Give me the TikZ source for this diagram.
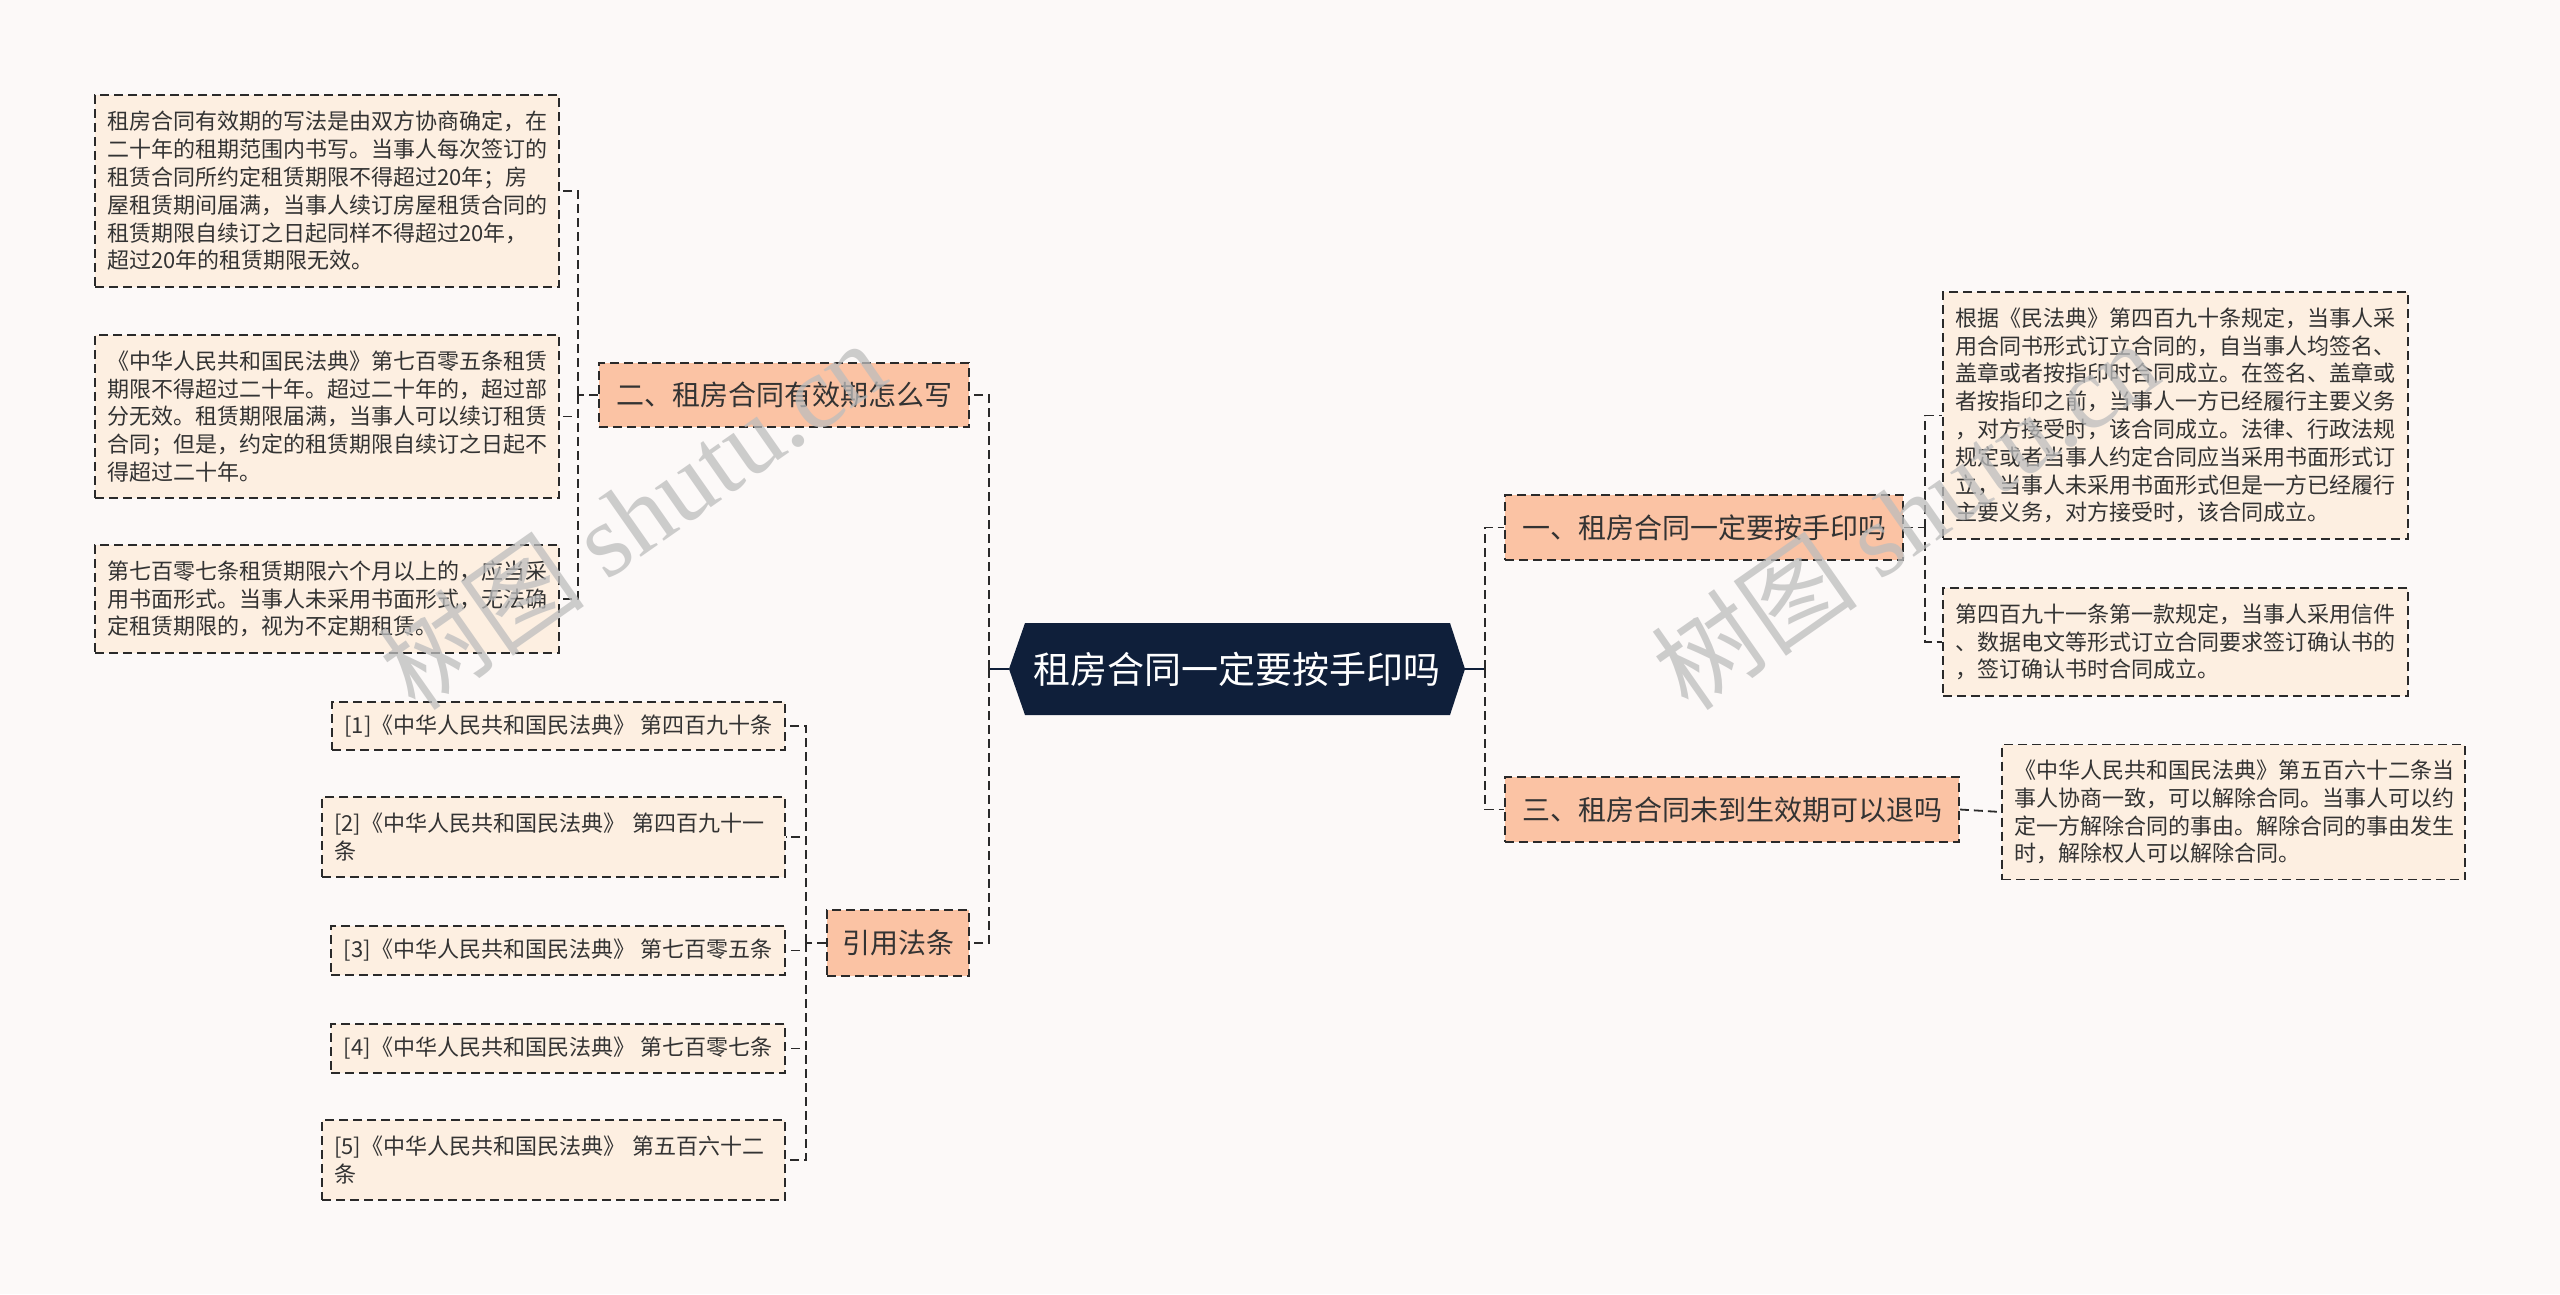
\documentclass[tikz,border=0pt]{standalone}
\usepackage{fontspec}
\setmainfont{Noto Sans CJK SC}
\newfontfamily\wmserif{Liberation Serif}
\definecolor{bgc}{HTML}{FCF9F8}
\definecolor{leaffill}{HTML}{FDEFE1}
\definecolor{branchfill}{HTML}{FBC3A4}
\definecolor{rootfill}{HTML}{0F1F3A}
\definecolor{linec}{HTML}{2A2A2A}
\definecolor{txtc}{HTML}{333333}
\definecolor{wmc}{HTML}{BDBDBD}
\tikzset{
  boxbase/.style={draw=linec, line width=1.8pt, dash pattern=on 9pt off 5pt, inner xsep=12pt, inner ysep=0pt, text=txtc},
  leafbox/.style={boxbase, fill=leaffill, font=\fontsize{22}{27.8}\selectfont, align=left},
  refbox/.style={boxbase, fill=leaffill, font=\fontsize{22}{27.8}\selectfont, inner xsep=0pt},
  branchbox/.style={boxbase, fill=branchfill, font=\fontsize{28}{34}\selectfont},
  rootnode/.style={inner sep=0pt, text=white, font=\fontsize{37}{44}\selectfont,
    path picture={\fill[rootfill] (path picture bounding box.west) -- ([xshift=16pt]path picture bounding box.north west) -- ([xshift=-15pt]path picture bounding box.north east) -- (path picture bounding box.east) -- ([xshift=-15pt]path picture bounding box.south east) -- ([xshift=16pt]path picture bounding box.south west) -- cycle;}},
  conn/.style={draw=linec, line width=1.8pt, dash pattern=on 9pt off 5pt},
  rootconn/.style={draw=rootfill, line width=2.5pt},
  wmark/.style={text=wmc, opacity=0.75, rotate=35, font=\fontsize{104}{110}\selectfont}
}
\begin{document}
\begin{tikzpicture}[x=1pt,y=-1pt]
\useasboundingbox (0,0) rectangle (2560,1294);
\fill[bgc] (0,0) rectangle (2560,1294);

% root
\node[rootnode, minimum width=456pt, minimum height=92pt] (root) at (1237,669) {租房合同一定要按手印吗};

% branches
\node[branchbox, minimum width=370pt, minimum height=64pt] (b2) at (784,395) {二、租房合同有效期怎么写};
\node[branchbox, minimum width=142pt, minimum height=66pt] (b4) at (898,943) {引用法条};
\node[branchbox, minimum width=398pt, minimum height=65pt] (b1) at (1704,527.5) {一、租房合同一定要按手印吗};
\node[branchbox, minimum width=454pt, minimum height=65pt] (b3) at (1732,809.5) {三、租房合同未到生效期可以退吗};

% left leaves
\node[leafbox, text width=440pt, minimum height=192pt] (l1) at (327,191) {租房合同有效期的写法是由双方协商确定，在\\二十年的租期范围内书写。当事人每次签订的\\租赁合同所约定租赁期限不得超过20年；房\\屋租赁期间届满，当事人续订房屋租赁合同的\\租赁期限自续订之日起同样不得超过20年，\\超过20年的租赁期限无效。};
\node[leafbox, text width=440pt, minimum height=163pt] (l2) at (327,416.5) {《中华人民共和国民法典》第七百零五条租赁\\期限不得超过二十年。超过二十年的，超过部\\分无效。租赁期限届满，当事人可以续订租赁\\合同；但是，约定的租赁期限自续订之日起不\\得超过二十年。};
\node[leafbox, text width=440pt, minimum height=108pt] (l3) at (327,599) {第七百零七条租赁期限六个月以上的，应当采\\用书面形式。当事人未采用书面形式，无法确\\定租赁期限的，视为不定期租赁。};

% references
\node[refbox, minimum width=453pt, minimum height=48pt] (r1) at (558.5,726) {[1]《中华人民共和国民法典》 第四百九十条};
\node[leafbox, text width=439pt, minimum height=80pt] (r2) at (553.5,837) {[2]《中华人民共和国民法典》 第四百九十一\\条};
\node[refbox, minimum width=454pt, minimum height=49pt] (r3) at (558,950.5) {[3]《中华人民共和国民法典》 第七百零五条};
\node[refbox, minimum width=454pt, minimum height=49pt] (r4) at (558,1048.5) {[4]《中华人民共和国民法典》 第七百零七条};
\node[leafbox, text width=439pt, minimum height=80pt] (r5) at (553.5,1160) {[5]《中华人民共和国民法典》 第五百六十二\\条};

% right leaves
\node[leafbox, text width=441pt, minimum height=247pt] (rl1) at (2175.5,415.5) {根据《民法典》第四百九十条规定，当事人采\\用合同书形式订立合同的，自当事人均签名、\\盖章或者按指印时合同成立。在签名、盖章或\\者按指印之前，当事人一方已经履行主要义务\\，对方接受时，该合同成立。法律、行政法规\\规定或者当事人约定合同应当采用书面形式订\\立，当事人未采用书面形式但是一方已经履行\\主要义务，对方接受时，该合同成立。};
\node[leafbox, text width=441pt, minimum height=108pt] (rl2) at (2175.5,642) {第四百九十一条第一款规定，当事人采用信件\\、数据电文等形式订立合同要求签订确认书的\\，签订确认书时合同成立。};
\node[leafbox, text width=439pt, minimum height=135pt] (rl3) at (2233.5,812) {《中华人民共和国民法典》第五百六十二条当\\事人协商一致，可以解除合同。当事人可以约\\定一方解除合同的事由。解除合同的事由发生\\时，解除权人可以解除合同。};

% trunk coordinates
\coordinate (rl) at (989,669);
\coordinate (rr) at (1485,669);
\coordinate (t2) at (578,395);
\coordinate (t4) at (806,943);
\coordinate (t1) at (1925,527.5);

% connectors
\draw[rootconn] (root.west) -- (rl);
\draw[rootconn] (root.east) -- (rr);
\draw[conn] (rl) |- (b2.east);
\draw[conn] (rl) |- (b4.east);
\draw[conn] (rr) |- (b1.west);
\draw[conn] (rr) |- (b3.west);

\draw[conn] (b2.west) -- (t2);
\draw[conn] (t2) |- (l1.east);
\draw[conn] (t2) |- (l2.east);
\draw[conn] (t2) |- (l3.east);

\draw[conn] (b4.west) -- (t4);
\draw[conn] (t4) |- (r1.east);
\draw[conn] (t4) |- (r2.east);
\draw[conn] (t4) |- (r3.east);
\draw[conn] (t4) |- (r4.east);
\draw[conn] (t4) |- (r5.east);

\draw[conn] (b1.east) -- (t1);
\draw[conn] (t1) |- (rl1.west);
\draw[conn] (t1) |- (rl2.west);

\draw[conn] (b3.east) -- (rl3.west);

% watermarks
\node[wmark] (wm1) at (632,515) {树图 {\wmserif shutu.cn}};
\node[wmark] (wm2) at (1905,515) {树图 {\wmserif shutu.cn}};
\end{tikzpicture}
\end{document}
